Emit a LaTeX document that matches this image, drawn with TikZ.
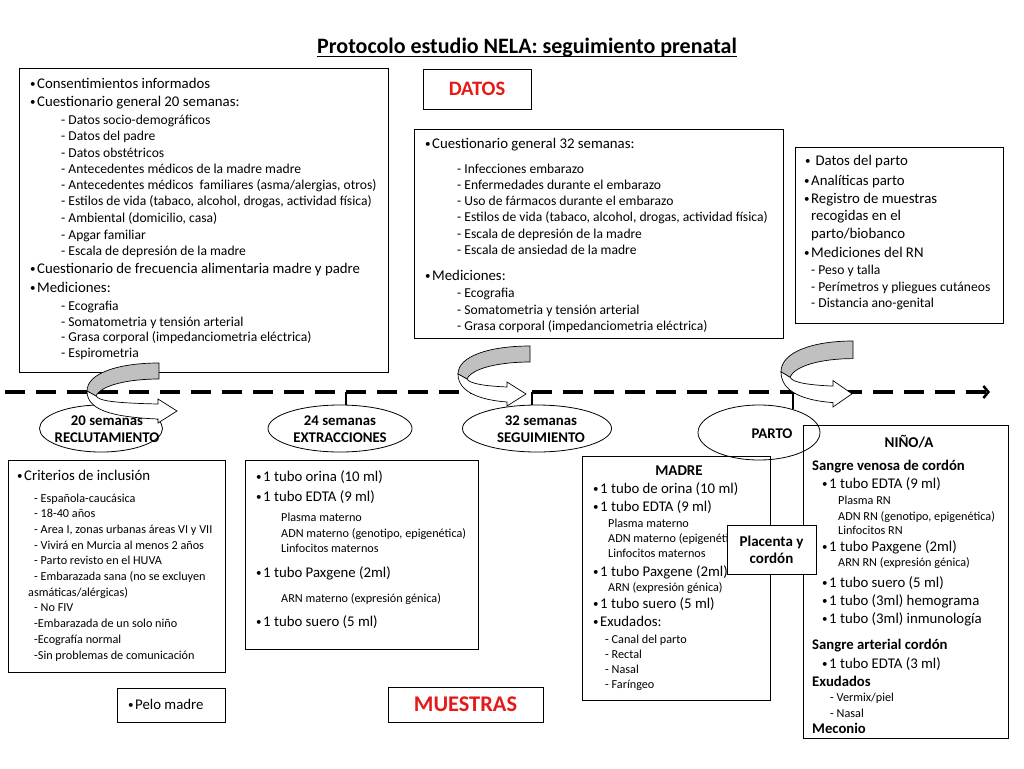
\documentclass[tikz,border=0pt]{standalone}
\usepackage{fontspec}
\setmainfont{Carlito}
\usetikzlibrary{arrows.meta,shapes.geometric}
\definecolor{myred}{RGB}{230,25,25}
\definecolor{argrey}{RGB}{192,192,192}
\newcounter{tln}
\newcommand\TL[4]{\stepcounter{tln}\node[#3] (tl\arabic{tln}) at (#1,#2) {#4};}
\newcommand\BX[5]{\node[box, minimum width={#4pt-#2pt}, minimum height={#5pt-#3pt}] (#1) at (#2,#3) {};}
\newcommand\bu{\makebox[8pt][l]{\hspace*{1pt}\raisebox{1pt}{\fontsize{11}{11}\selectfont\textbullet}}}
\tikzset{
 box/.style={draw, line width=0.9pt, inner sep=0, outer sep=0, anchor=north west},
 bt/.style={anchor=base west, inner sep=0, font=\fontsize{14.8}{17}\selectfont},
 st/.style={anchor=base west, inner sep=0, font=\fontsize{13.6}{16}\selectfont},
 xt/.style={anchor=base west, inner sep=0, font=\fontsize{12.2}{14}\selectfont},
 hb/.style={anchor=base west, inner sep=0, font=\bfseries\fontsize{14.7}{17}\selectfont},
 hc/.style={anchor=base, inner sep=0, font=\bfseries\fontsize{15}{17}\selectfont},
 ell/.style={draw, ellipse, line width=0.8pt, inner sep=0},
 elabel/.style={align=center, inner sep=0, font=\bfseries\fontsize{14.8}{17}\selectfont},
 redlab/.style={inner sep=0, text=myred, font=\bfseries},
 tick/.style={line width=1.3pt},
 curvarrow/.pic={
  \path[draw, line width=0.7pt, fill=argrey] (0,0) .. controls (-40,0) and (-72,10) .. (-72,28) -- (-63,33) .. controls (-58,22) and (-30,16) .. (0,16) -- cycle;
  \path[draw, line width=0.7pt, fill=white] (-72,28) .. controls (-72,46) and (-50,54) .. ({-23+#1},56) -- ({-23+#1},60) -- ({-4+#1},48) -- ({-23+#1},36) -- ({-23+#1},41) .. controls (-44,40) and (-60,38) .. (-63,33) -- cycle;
 }
}
\begin{document}
\begin{tikzpicture}[x=1pt,y=-1pt]
\useasboundingbox (0,0) rectangle (1024,768);
\fill[white] (0,0) rectangle (1024,768);

% title
\node[anchor=base, inner sep=0, font=\bfseries\fontsize{22}{25}\selectfont] (title) at (527,54) {Protocolo estudio NELA: seguimiento prenatal};
\draw[line width=1.1pt] ([yshift=-2.8pt]title.base west) -- ([yshift=-2.8pt]title.base east);

% boxes
\BX{b1}{19}{68}{388}{372}
\BX{datos}{423}{69}{531}{109}
\BX{b2}{414}{129}{783}{338}
\BX{b3}{795}{147}{1003}{323}
\BX{b4}{8}{460}{225}{672}
\BX{pelo}{117}{688}{225}{722}
\BX{b5}{245}{460}{478}{649}
\BX{muestras}{388}{687}{543}{722}
\BX{madre}{582}{456}{770}{700}
\BX{nino}{803}{425}{1008}{738}

\node[redlab, font=\bfseries\fontsize{20.5}{22}\selectfont] (tdatos) at (datos) {DATOS};
\node[redlab, font=\bfseries\fontsize{22.4}{24}\selectfont] (tmuestras) at (muestras) {MUESTRAS};

% box 1
\TL{29}{88.5}{bt}{\bu Consentimientos informados}
\TL{29}{106.5}{bt}{\bu Cuestionario general 20 semanas:}
\TL{61}{124.5}{st}{- Datos socio-demográficos}
\TL{61}{140.5}{st}{- Datos del padre}
\TL{61}{157.5}{st}{- Datos obstétricos}
\TL{61}{173.5}{st}{- Antecedentes médicos de la madre madre}
\TL{61}{189.5}{st}{- Antecedentes médicos\ \ familiares (asma/alergias, otros)}
\TL{61}{205.5}{st}{- Estilos de vida (tabaco, alcohol, drogas, actividad física)}
\TL{61}{222.5}{st}{- Ambiental (domicilio, casa)}
\TL{61}{239.5}{st}{- Apgar familiar}
\TL{61}{255.5}{st}{- Escala de depresión de la madre}
\TL{29}{273.5}{bt}{\bu Cuestionario de frecuencia alimentaria madre y padre}
\TL{29}{292.5}{bt}{\bu Mediciones:}
\TL{61}{310.5}{st}{- Ecografia}
\TL{61}{326.5}{st}{- Somatometria y tensión arterial}
\TL{61}{341.5}{st}{- Grasa corporal (impedanciometria eléctrica)}
\TL{61}{357.5}{st}{- Espirometria}

% box 2
\TL{424}{148.5}{bt}{\bu Cuestionario general 32 semanas:}
\TL{457}{173.5}{st}{- Infecciones embarazo}
\TL{457}{189.5}{st}{- Enfermedades durante el embarazo}
\TL{457}{205.5}{st}{- Uso de fármacos durante el embarazo}
\TL{457}{221.5}{st}{- Estilos de vida (tabaco, alcohol, drogas, actividad física)}
\TL{457}{238.5}{st}{- Escala de depresión de la madre}
\TL{457}{254.5}{st}{- Escala de ansiedad de la madre}
\TL{424}{280.5}{bt}{\bu Mediciones:}
\TL{457}{297.5}{st}{- Ecografia}
\TL{457}{314.5}{st}{- Somatometria y tensión arterial}
\TL{457}{330.5}{st}{- Grasa corporal (impedanciometria eléctrica)}

% box 3
\TL{804}{165.5}{bt}{\bu\ Datos del parto}
\TL{803}{185.5}{bt}{\bu Analíticas parto}
\TL{803}{203.5}{bt}{\bu Registro de muestras}
\TL{811}{220.5}{bt}{recogidas en el}
\TL{811}{238.5}{bt}{parto/biobanco}
\TL{803}{257.5}{bt}{\bu Mediciones del RN}
\TL{811}{274.5}{st}{- Peso y talla}
\TL{811}{291.5}{st}{- Perímetros y pliegues cutáneos}
\TL{811}{307.5}{st}{- Distancia ano-genital}

% box 4
\TL{16}{480.5}{bt}{\bu Criterios de inclusión}
\TL{34}{502}{xt}{- Española-caucásica}
\TL{34}{517.7}{xt}{- 18-40 años}
\TL{34}{533.4}{xt}{- Area I, zonas urbanas áreas VI y VII}
\TL{34}{549.1}{xt}{- Vivirá en Murcia al menos 2 años}
\TL{34}{564.8}{xt}{- Parto revisto en el HUVA}
\TL{34}{580.5}{xt}{- Embarazada sana (no se excluyen}
\TL{28}{596.2}{xt}{asmáticas/alérgicas)}
\TL{34}{611.9}{xt}{- No FIV}
\TL{34}{627.6}{xt}{-Embarazada de un solo niño}
\TL{34}{643.3}{xt}{-Ecografía normal}
\TL{34}{659}{xt}{-Sin problemas de comunicación}

\TL{127}{709.5}{bt}{\bu Pelo madre}

% box 5
\TL{255}{481.5}{bt}{\bu 1 tubo orina (10 ml)}
\TL{255}{501.5}{bt}{\bu 1 tubo EDTA (9 ml)}
\TL{281}{521.5}{xt}{Plasma materno}
\TL{281}{537}{xt}{ADN materno (genotipo, epigenética)}
\TL{281}{552.5}{xt}{Linfocitos maternos}
\TL{255}{577.5}{bt}{\bu 1 tubo Paxgene (2ml)}
\TL{281}{602}{xt}{ARN materno (expresión génica)}
\TL{255}{626.5}{bt}{\bu 1 tubo suero (5 ml)}

% madre
\TL{679}{475.5}{hc}{MADRE}
\TL{592}{493.5}{bt}{\bu 1 tubo de orina (10 ml)}
\TL{592}{511.5}{bt}{\bu 1 tubo EDTA (9 ml)}
\TL{608}{527.5}{xt}{Plasma materno}
\TL{608}{542.5}{xt}{ADN materno (epigenética)}
\TL{608}{557.5}{xt}{Linfocitos maternos}
\TL{592}{576.5}{bt}{\bu 1 tubo Paxgene (2ml)}
\TL{608}{591.5}{xt}{ARN (expresión génica)}
\TL{592}{608.5}{bt}{\bu 1 tubo suero (5 ml)}
\TL{592}{626.5}{bt}{\bu Exudados:}
\TL{605}{643.5}{xt}{- Canal del parto}
\TL{605}{658.5}{xt}{- Rectal}
\TL{605}{673.5}{xt}{- Nasal}
\TL{605}{688.5}{xt}{- Faríngeo}

% nino
\TL{909}{447.5}{hc}{NIÑO/A}
\TL{812}{470.5}{hb}{Sangre venosa de cordón}
\TL{821}{488.5}{bt}{\bu 1 tubo EDTA (9 ml)}
\TL{838}{504.5}{xt}{Plasma RN}
\TL{838}{520.5}{xt}{ADN RN (genotipo, epigenética)}
\TL{838}{534.5}{xt}{Linfocitos RN}
\TL{821}{551.5}{bt}{\bu 1 tubo Paxgene (2ml)}
\TL{838}{566.5}{xt}{ARN RN (expresión génica)}
\TL{821}{587.5}{bt}{\bu 1 tubo suero (5 ml)}
\TL{821}{605.5}{bt}{\bu 1 tubo (3ml) hemograma}
\TL{821}{623.5}{bt}{\bu 1 tubo (3ml) inmunología}
\TL{812}{649.5}{hb}{Sangre arterial cordón}
\TL{821}{668.5}{bt}{\bu 1 tubo EDTA (3 ml)}
\TL{812}{686.5}{hb}{Exudados}
\TL{830}{701.5}{xt}{- Vermix/piel}
\TL{830}{717.5}{xt}{- Nasal}
\TL{812}{733.5}{hb}{Meconio}

% timeline
\coordinate (ls) at (5,392);
\coordinate (le) at (990,392);
\draw[line width=4pt, dash pattern=on 20pt off 11pt, -{Straight Barb[length=5pt,width=12pt,line width=2.5pt]}] (ls) -- (le);

% ellipses
\node[ell, minimum width=123pt, minimum height=47pt] (e20) at (101,428.5) {};
\node[ell, minimum width=144pt, minimum height=47pt] (e24) at (340,428.5) {};
\node[ell, minimum width=149pt, minimum height=47pt] (e32) at (537,428.5) {};
\node[ell, minimum width=122pt, minimum height=55pt] (ep) at (759,432.5) {};
\node[elabel] (l20) at (107,429) {20 semanas\\RECLUTAMIENTO};
\node[elabel] (l24) at (340,429) {24 semanas\\EXTRACCIONES};
\node[elabel] (l32) at (541,429) {32 semanas\\SEGUIMIENTO};
\node[elabel] (lp) at (772,434) {PARTO};

% ticks
\coordinate (k24) at (346,392);
\coordinate (k32) at (532,392);
\coordinate (kp) at (793,392);
\draw[tick] (k24) -- (346,405);
\draw[tick] (k32) -- (532,405);
\draw[tick] (kp) -- (793,409);

% curved arrows
\pic at (159,363) {curvarrow=22};
\pic at (530,346) {curvarrow=0};
\pic[yscale=1.1] at (853,341) {curvarrow=3};

% placenta
\node[box, fill=white, minimum width=89pt, minimum height=49pt] (plac) at (727,525) {};
\node[align=center, inner sep=0, font=\bfseries\fontsize{15}{17}\selectfont] (tplac) at (plac) {Placenta y\\cordón};
\end{tikzpicture}
\end{document}
